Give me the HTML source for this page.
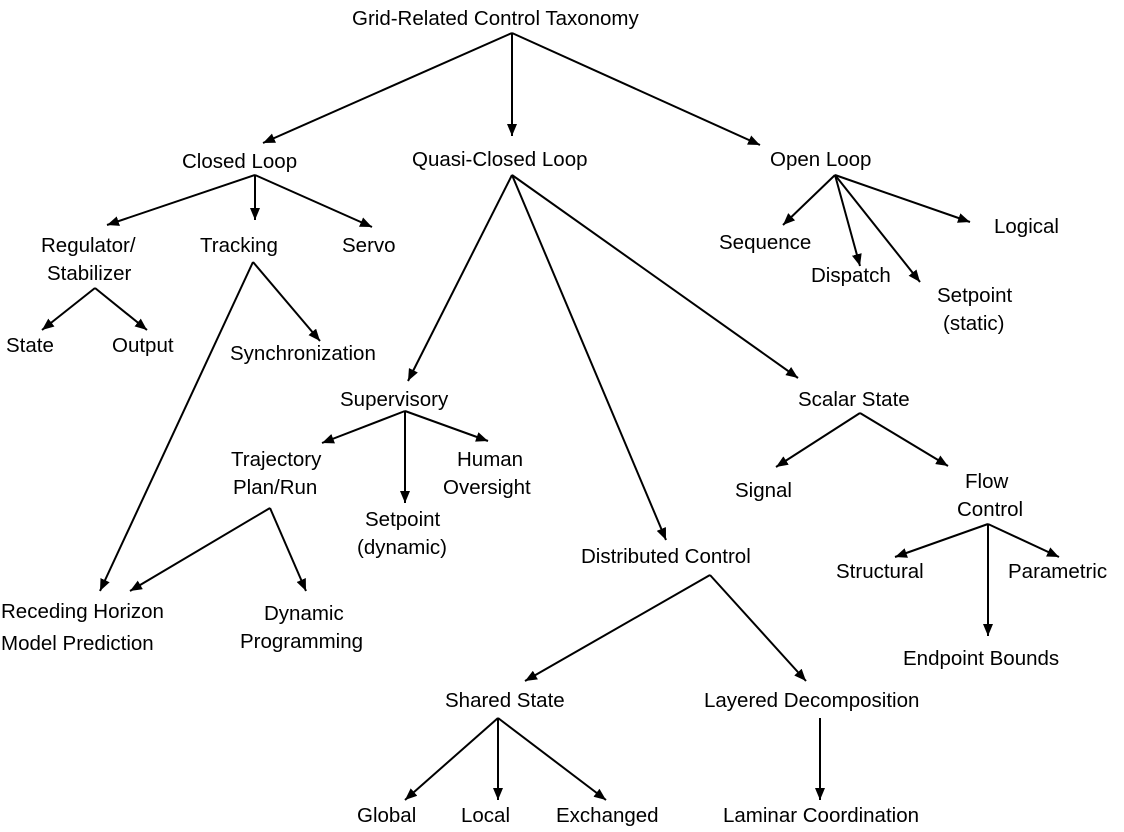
<!DOCTYPE html>
<html><head><meta charset="utf-8"><style>
html,body{margin:0;padding:0;background:#fff;}
svg{display:block;}
text{font-family:"Liberation Sans",Arial,sans-serif;font-size:20.5px;fill:#000;}
</style></head><body>
<svg width="1124" height="832" viewBox="0 0 1124 832" xmlns="http://www.w3.org/2000/svg">
<defs><marker id="a" viewBox="0 0 12 10" refX="12" refY="5" markerWidth="12" markerHeight="10" markerUnits="userSpaceOnUse" orient="auto"><path d="M0,0 L12,5 L0,10 z" fill="#000"/></marker></defs>
<g stroke="#000" stroke-width="2" marker-end="url(#a)" fill="none">
<line x1="512" y1="33" x2="263" y2="143"/>
<line x1="512" y1="33" x2="512" y2="136"/>
<line x1="512" y1="33" x2="760" y2="145"/>
<line x1="255" y1="175" x2="107" y2="225"/>
<line x1="255" y1="175" x2="255" y2="220"/>
<line x1="255" y1="175" x2="372" y2="227"/>
<line x1="95" y1="288" x2="42" y2="330"/>
<line x1="95" y1="288" x2="147" y2="330"/>
<line x1="253" y1="262" x2="100" y2="591"/>
<line x1="253" y1="262" x2="320" y2="341"/>
<line x1="512" y1="175" x2="408" y2="381"/>
<line x1="512" y1="175" x2="666" y2="540"/>
<line x1="512" y1="175" x2="798" y2="378"/>
<line x1="835" y1="175" x2="783" y2="225"/>
<line x1="835" y1="175" x2="860" y2="266"/>
<line x1="835" y1="175" x2="970" y2="222"/>
<line x1="835" y1="175" x2="920" y2="282"/>
<line x1="405" y1="411" x2="322" y2="443"/>
<line x1="405" y1="411" x2="405" y2="503"/>
<line x1="405" y1="411" x2="488" y2="441"/>
<line x1="860" y1="413" x2="776" y2="467"/>
<line x1="860" y1="413" x2="948" y2="466"/>
<line x1="270" y1="508" x2="130" y2="591"/>
<line x1="270" y1="508" x2="306" y2="591"/>
<line x1="988" y1="524" x2="895" y2="557"/>
<line x1="988" y1="524" x2="1059" y2="557"/>
<line x1="988" y1="524" x2="988" y2="636"/>
<line x1="710" y1="575" x2="525" y2="681"/>
<line x1="710" y1="575" x2="806" y2="681"/>
<line x1="498" y1="718" x2="405" y2="800"/>
<line x1="498" y1="718" x2="498" y2="800"/>
<line x1="498" y1="718" x2="606" y2="800"/>
<line x1="820" y1="718" x2="820" y2="800"/>
</g>
<text x="352" y="25">Grid-Related Control Taxonomy</text>
<text x="182" y="168">Closed Loop</text>
<text x="412" y="166">Quasi-Closed Loop</text>
<text x="770" y="166">Open Loop</text>
<text x="41" y="252">Regulator/</text>
<text x="47" y="280">Stabilizer</text>
<text x="200" y="252">Tracking</text>
<text x="342" y="252">Servo</text>
<text x="6" y="352">State</text>
<text x="112" y="352">Output</text>
<text x="230" y="360">Synchronization</text>
<text x="719" y="249">Sequence</text>
<text x="811" y="282">Dispatch</text>
<text x="994" y="233">Logical</text>
<text x="937" y="302">Setpoint</text>
<text x="943" y="330">(static)</text>
<text x="340" y="406">Supervisory</text>
<text x="798" y="406">Scalar State</text>
<text x="231" y="466">Trajectory</text>
<text x="233" y="494">Plan/Run</text>
<text x="457" y="466">Human</text>
<text x="443" y="494">Oversight</text>
<text x="365" y="526">Setpoint</text>
<text x="357" y="554">(dynamic)</text>
<text x="735" y="497">Signal</text>
<text x="965" y="488">Flow</text>
<text x="957" y="516">Control</text>
<text x="581" y="563">Distributed Control</text>
<text x="836" y="578">Structural</text>
<text x="1008" y="578">Parametric</text>
<text x="1" y="618">Receding Horizon</text>
<text x="1" y="650">Model Prediction</text>
<text x="264" y="620">Dynamic</text>
<text x="240" y="648">Programming</text>
<text x="903" y="665">Endpoint Bounds</text>
<text x="445" y="707">Shared State</text>
<text x="704" y="707">Layered Decomposition</text>
<text x="357" y="822">Global</text>
<text x="461" y="822">Local</text>
<text x="556" y="822">Exchanged</text>
<text x="723" y="822">Laminar Coordination</text>
</svg>
</body></html>
